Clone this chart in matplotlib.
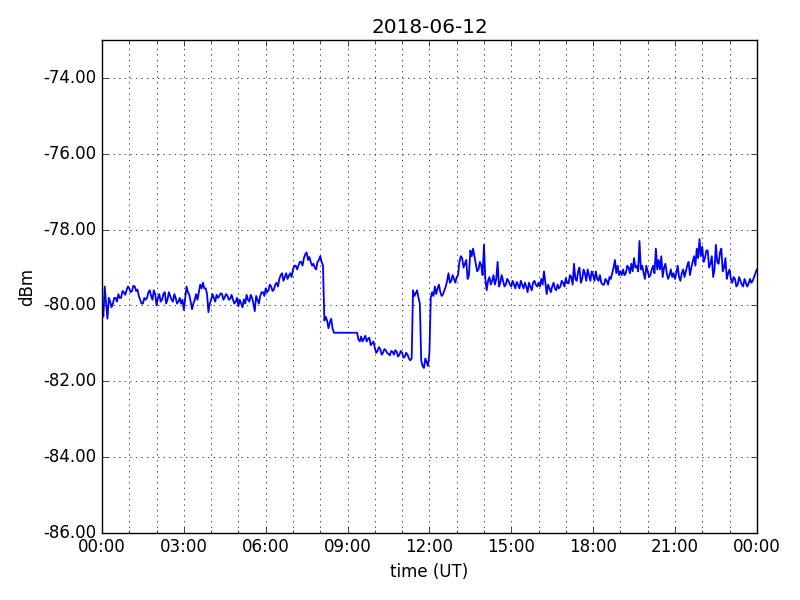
import numpy as np
import pandas as pd
import matplotlib
matplotlib.use('Agg')
from matplotlib import pyplot as plt
import matplotlib.dates as mdates
from matplotlib.ticker import FormatStrFormatter

# Signal level, one value every 0.1 h from 00:00 to 24:00
dbm_00_08 = [-80.05, -79.50, -80.35, -79.90, -79.95, -79.80, -79.70, -79.80, -79.65, -79.60,
             -79.55, -79.62, -79.50, -79.58, -79.85, -79.95, -79.85, -79.65, -79.75, -79.60,
             -80.00, -79.70, -79.85, -79.65, -79.85, -79.75, -79.90, -79.80, -79.90, -79.95,
             -80.12, -79.50, -79.72, -80.10, -79.85, -79.85, -79.45, -79.40, -79.55, -80.18,
             -79.85, -79.80, -79.72, -79.75, -79.70, -79.78, -79.75, -79.82, -79.85, -79.90,
             -80.02, -79.95, -79.84, -79.72, -79.90, -79.80, -80.15, -79.85, -79.75, -79.65,
             -79.55, -79.60, -79.50, -79.58, -79.40, -79.30, -79.15, -79.25, -79.30, -79.15,
             -79.05, -78.95, -78.95, -78.85, -78.75, -78.60, -78.72, -78.95, -79.00, -78.85]
dbm_08_16 = [-78.70, -78.95, -80.30, -80.60, -80.35, -80.72, -80.72, -80.72, -80.72, -80.72,
             -80.72, -80.72, -80.72, -80.72, -80.90, -80.82, -80.88, -80.95, -80.85, -81.00,
             -81.12, -81.20, -81.15, -81.25, -81.18, -81.28, -81.20, -81.30, -81.22, -81.30,
             -81.25, -81.35, -81.30, -81.45, -79.60, -79.68, -79.80, -81.45, -81.65, -81.50,
             -81.25, -79.65, -79.50, -79.55, -79.65, -79.70, -79.50, -79.15, -79.35, -79.30,
             -79.25, -78.85, -78.75, -78.90, -79.30, -78.55, -78.50, -78.90, -79.05, -78.95,
             -78.40, -79.60, -79.25, -79.35, -79.45, -78.85, -79.40, -79.35, -79.45, -79.35,
             -79.50, -79.45, -79.38, -79.55, -79.45, -79.40, -79.65, -79.50, -79.40, -79.45]
dbm_16_24 = [-79.40, -79.30, -79.10, -79.70, -79.55, -79.50, -79.55, -79.45, -79.50, -79.40,
             -79.28, -79.42, -79.25, -78.90, -79.35, -79.00, -79.30, -79.15, -79.05, -79.35,
             -79.20, -79.10, -79.35, -79.40, -79.45, -79.35, -79.25, -79.15, -78.80, -78.95,
             -79.10, -79.05, -79.15, -79.00, -78.90, -78.75, -78.95, -78.30, -78.95, -79.30,
             -79.10, -79.20, -78.95, -78.50, -78.80, -78.70, -79.00, -79.15, -79.20, -79.25,
             -79.30, -78.95, -79.35, -79.05, -79.10, -78.85, -79.00, -78.70, -78.50, -78.25,
             -78.45, -78.75, -78.55, -78.90, -79.25, -78.40, -78.90, -78.50, -79.00, -79.30,
             -79.05, -79.40, -79.30, -79.45, -79.35, -79.50, -79.40, -79.42, -79.40, -79.25,
             -79.05]

mid_00_08 = [-80.30, -79.95, -79.80, -80.05, -79.80, -79.90, -79.80, -79.62, -79.72, -79.50,
             -79.65, -79.48, -79.62, -79.75, -79.95, -79.80, -79.80, -79.60, -79.85, -79.70,
             -79.80, -79.90, -79.70, -79.95, -79.65, -79.85, -79.70, -79.95, -79.80, -79.85,
             -79.80, -79.65, -79.90, -79.95, -79.70, -79.65, -79.55, -79.55, -79.70, -79.95,
             -79.70, -79.90, -79.80, -79.68, -79.85, -79.70, -79.85, -79.72, -79.95, -79.80,
             -79.85, -80.05, -79.95, -79.85, -79.72, -79.95, -79.75, -79.95, -79.65, -79.75,
             -79.65, -79.45, -79.62, -79.45, -79.50, -79.20, -79.35, -79.15, -79.22, -79.25,
             -78.95, -79.05, -78.85, -78.95, -78.65, -78.80, -78.85, -78.90, -79.05, -78.80]
mid_08_16 = [-78.85, -80.40, -80.40, -80.45, -80.60, -80.72, -80.72, -80.72, -80.72, -80.72,
             -80.72, -80.72, -80.72, -80.72, -80.95, -80.95, -80.80, -80.88, -81.05, -80.95,
             -81.25, -81.10, -81.30, -81.15, -81.25, -81.32, -81.22, -81.18, -81.35, -81.20,
             -81.38, -81.25, -81.40, -81.40, -79.75, -79.60, -79.95, -81.60, -81.40, -81.60,
             -79.80, -79.75, -79.70, -79.45, -79.75, -79.60, -79.35, -79.40, -79.20, -79.40,
             -79.20, -78.70, -79.00, -78.80, -79.20, -78.70, -78.70, -79.10, -78.85, -79.20,
             -79.30, -79.35, -79.45, -79.20, -79.30, -79.50, -79.20, -79.50, -79.30, -79.45,
             -79.35, -79.55, -79.45, -79.35, -79.55, -79.50, -79.40, -79.60, -79.35, -79.50]
mid_16_24 = [-79.50, -79.45, -79.40, -79.45, -79.65, -79.40, -79.60, -79.55, -79.35, -79.50,
             -79.40, -79.20, -79.45, -79.30, -79.10, -79.40, -79.05, -79.35, -79.20, -79.10,
             -79.35, -79.30, -79.20, -79.45, -79.30, -79.45, -79.30, -79.00, -79.15, -79.20,
             -79.20, -79.20, -78.95, -79.15, -79.10, -79.00, -79.10, -79.05, -79.15, -78.95,
             -79.25, -79.05, -79.15, -79.05, -79.05, -79.25, -78.90, -79.30, -79.05, -79.15,
             -79.15, -79.25, -79.15, -79.25, -78.95, -79.20, -78.85, -78.95, -78.75, -78.70,
             -78.85, -78.55, -79.00, -78.70, -79.05, -78.85, -78.60, -79.10, -78.75, -79.15,
             -79.30, -79.25, -79.50, -79.25, -79.45, -79.30, -79.50, -79.30, -79.35, -79.15]

dbm = np.array(dbm_00_08 + dbm_08_16 + dbm_16_24)
mid = np.array(mid_00_08 + mid_08_16 + mid_16_24)
hours = np.concatenate([np.arange(len(dbm)) * 0.1, np.arange(len(mid)) * 0.1 + 0.05])
level = np.concatenate([dbm, mid])
order = np.argsort(hours)
t = pd.Timestamp('2018-06-12') + pd.to_timedelta(hours[order], unit='h')
level = level[order]

plt.style.use('classic')
fig = plt.figure(figsize=(8, 6), dpi=100, facecolor='white')
ax = fig.add_subplot(111)
fig.subplots_adjust(left=0.1275, right=0.946, bottom=0.112, top=0.933)

ax.plot(t, level, color='b', linewidth=1.3)

ax.set_xlim(pd.Timestamp('2018-06-12'), pd.Timestamp('2018-06-13'))
ax.set_ylim(-86, -73)
ax.set_yticks(np.arange(-86, -73, 2))
ax.yaxis.set_major_formatter(FormatStrFormatter('%.2f'))
ax.xaxis.set_major_locator(mdates.HourLocator(byhour=range(0, 24, 3)))
ax.xaxis.set_minor_locator(mdates.HourLocator())
ax.xaxis.set_major_formatter(mdates.DateFormatter('%H:%M'))

ax.grid(True, which='major', linestyle=':', color='k')
ax.grid(True, which='minor', axis='x', linestyle=':', color='k')

ax.set_title('2018-06-12')
ax.set_xlabel('time (UT)')
ax.set_ylabel('dBm')

fig.savefig('out.png', dpi=100, facecolor='white')
